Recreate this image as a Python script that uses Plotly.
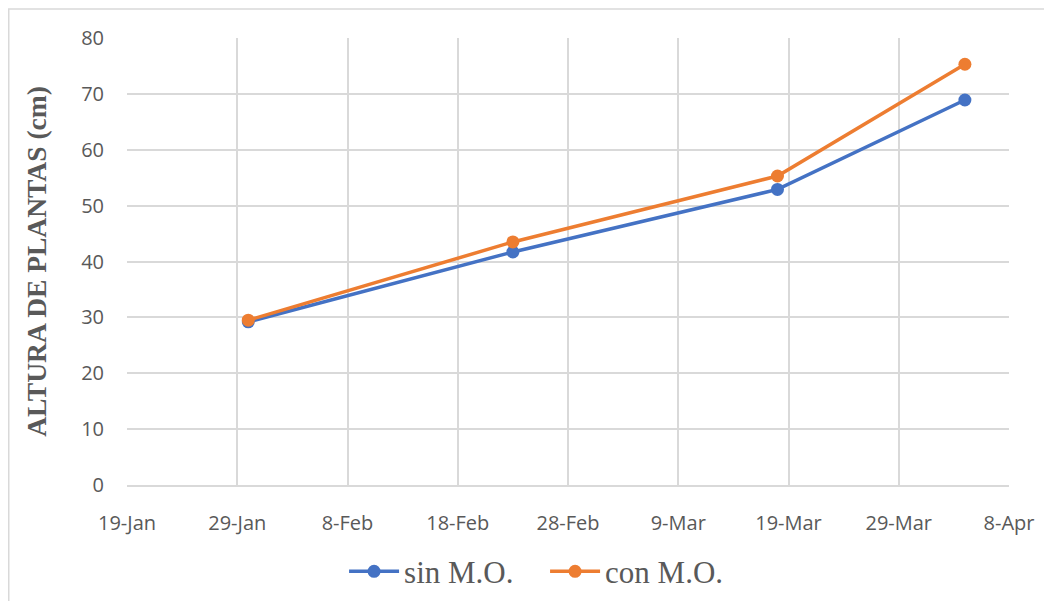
import plotly.graph_objects as go

dates = ["2024-01-30", "2024-02-23", "2024-03-18", "2024-04-04"]
sin_mo = [29.2, 41.7, 52.9, 68.9]
con_mo = [29.5, 43.5, 55.3, 75.3]
series_names = ["sin M.O.", "con M.O."]
colors = ["#4472C4", "#ED7D31"]

fig = go.Figure()
for name, vals, col in zip(series_names, [sin_mo, con_mo], colors):
    fig.add_trace(go.Scatter(
        x=dates, y=vals, name=name, mode="lines+markers",
        line=dict(color=col, width=3.5),
        marker=dict(color=col, size=13),
    ))

grid = "#D9D9D9"
tickfont = dict(family="Open Sans, sans-serif", size=20, color="#595959")
serif = "Liberation Serif, Times New Roman, serif"

W, H = 1036, 593
L, R, T, B = 119, 35, 30, 116

fig.update_layout(
    width=W, height=H,
    margin=dict(l=L, r=R, t=T, b=B, autoexpand=False),
    paper_bgcolor="white", plot_bgcolor="white",
    showlegend=True,
    legend=dict(orientation="h", x=0.474, xanchor="center", y=-0.194, yanchor="middle",
                font=dict(family=serif, size=31, color="#595959"),
                itemwidth=50, entrywidth=136, traceorder="normal"),
    xaxis=dict(
        type="date", range=["2024-01-19", "2024-04-08"],
        tick0="2024-01-19", dtick=10 * 86400000, tickformat="%-d-%b",
        showgrid=True, gridcolor=grid, gridwidth=1.5,
        showline=True, linecolor=grid, linewidth=1.5, mirror=False,
        tickfont=tickfont, ticks="", ticklabelstandoff=19, zeroline=False,
    ),
    yaxis=dict(
        range=[0, 80], dtick=10,
        showgrid=True, gridcolor=grid, gridwidth=1.5,
        showline=False, zeroline=False,
        tickfont=tickfont, ticks="", ticklabelstandoff=22,
        title=dict(text="<b>ALTURA DE PLANTAS (cm)</b>", standoff=26,
                   font=dict(family=serif, size=27.5, color="#595959")),
    ),
    shapes=[
        dict(type="line", xref="paper", yref="paper",
             x0=-L / 882, x1=1.2, y0=(477 - 1) / 447, y1=(477 - 1) / 447,
             line=dict(color="#D9D9D9", width=1.5)),
        dict(type="line", xref="paper", yref="paper",
             x0=(-L + 0.5) / 882, x1=(-L + 0.5) / 882, y0=-0.4, y1=(477 - 1) / 447,
             line=dict(color="#D9D9D9", width=2)),
    ],
)

fig.write_html("out.html")
